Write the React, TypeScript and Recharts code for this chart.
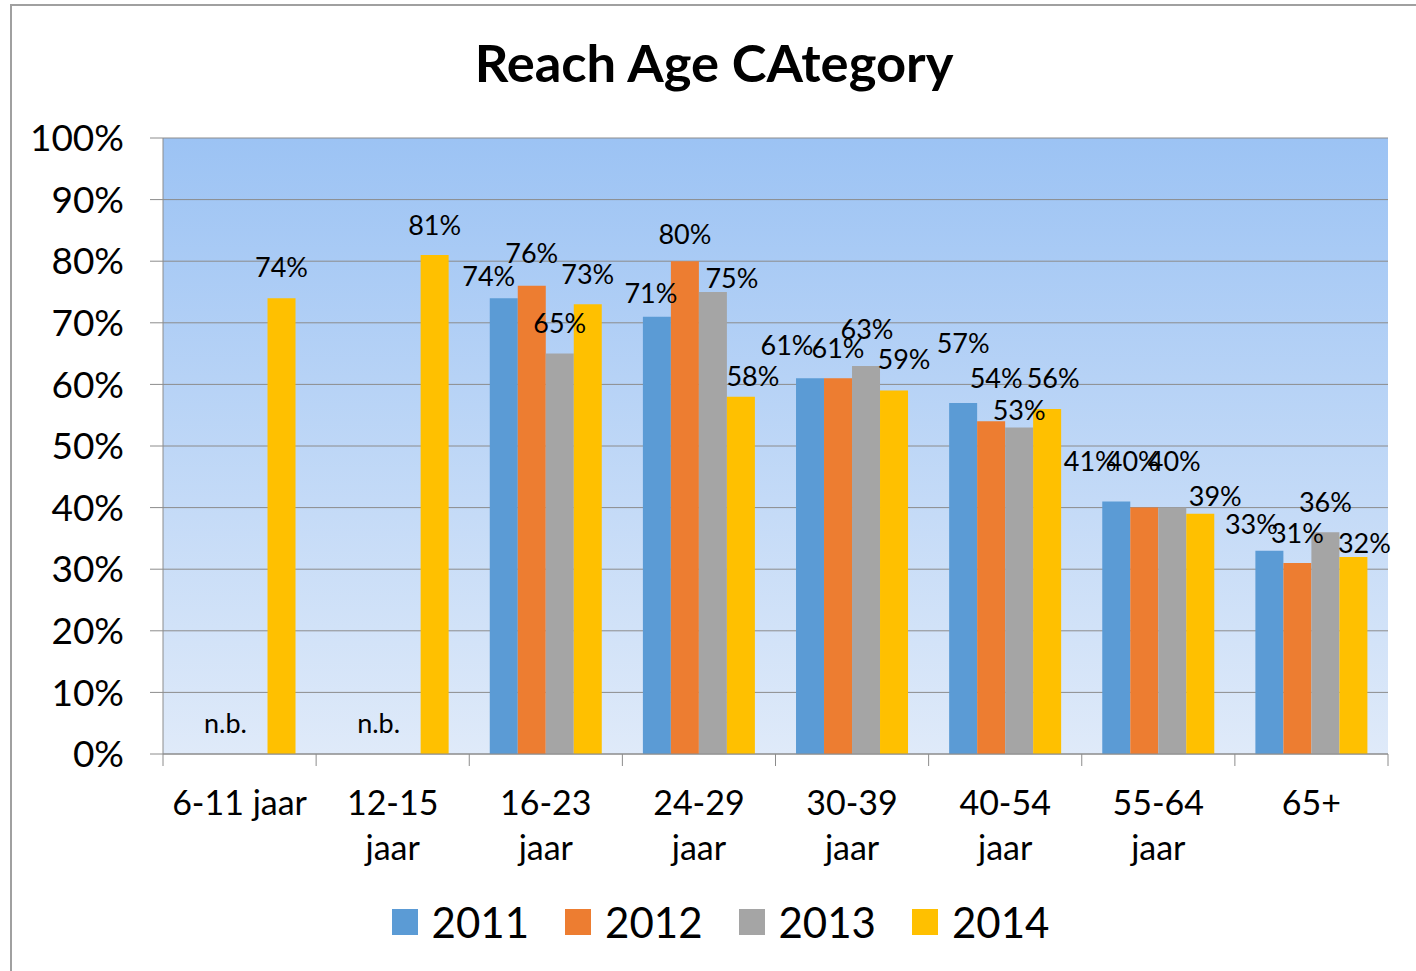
import React from 'react';
import { BarChart, Bar, XAxis, YAxis, CartesianGrid, LabelList, Legend } from 'recharts';

const categories = ['6-11 jaar', '12-15 jaar', '16-23 jaar', '24-29 jaar', '30-39 jaar', '40-54 jaar', '55-64 jaar', '65+'];
const xTickLines = [['6-11 jaar'], ['12-15', 'jaar'], ['16-23', 'jaar'], ['24-29', 'jaar'], ['30-39', 'jaar'], ['40-54', 'jaar'], ['55-64', 'jaar'], ['65+']];
const v2011: (number | null)[] = [null, null, 74, 71, 61, 57, 41, 33];
const v2012: (number | null)[] = [null, null, 76, 80, 61, 54, 40, 31];
const v2013: (number | null)[] = [null, null, 65, 75, 63, 53, 40, 36];
const v2014: (number | null)[] = [74, 81, 73, 58, 59, 56, 39, 32];
const seriesNames = ['2011', '2012', '2013', '2014'];
const seriesColors = ['#5B9BD5', '#ED7D31', '#A5A5A5', '#FFC000'];
const yTicks = [0, 10, 20, 30, 40, 50, 60, 70, 80, 90, 100];
const missingLabel = 'n.b.';
const title = 'Reach Age CAtegory';

// label nudges [dx, dy] per series per category (style only, imitating the original's label placement)
const nudge2011 = [[0, 0], [0, 0], [-15, 9], [-6, 7], [-23, -2], [0, -29], [-26, -9], [-18, 4]];
const nudge2012 = [[0, 0], [0, 0], [0, -2], [0, 4], [0, 1], [5, -12], [-11, -16], [0, 1]];
const nudge2013 = [[0, 0], [0, 0], [0, 0], [19, 17], [1, -6], [0, 13], [2, -16], [0, 1]];
const nudge2014 = [[0, 0], [0, 1], [0, 1], [12, 10], [10, -1], [6, 0], [15, 13], [11, 17]];
const nudges = [nudge2011, nudge2012, nudge2013, nudge2014];

const FONT = 'Lato, "Open Sans", sans-serif';
const W = 1416;
const H = 971;
const PLOT_LEFT = 163;
const PLOT_RIGHT = 1388;
const BAND = (PLOT_RIGHT - PLOT_LEFT) / categories.length;
const LABEL_GAP = 21;

const fmt = (v: number | null) => (v == null ? '' : `${v}%`);

const data = categories.map((cat, i) => ({
  cat,
  s2011: v2011[i],
  s2012: v2012[i],
  s2013: v2013[i],
  s2014: v2014[i],
  l2011: fmt(v2011[i]),
  l2012: fmt(v2012[i]),
  l2013: fmt(v2013[i]),
  l2014: fmt(v2014[i]),
  note: v2012[i] == null ? missingLabel : '',
}));

const XTick = (props: any) => {
  const { x, y, index } = props;
  const left = x - BAND / 2;
  const right = x + BAND / 2;
  const lines = xTickLines[index] || [String(props.payload.value)];
  return (
    <g>
      <line x1={left} y1={y} x2={left} y2={y + 12} stroke="#8c8c8c" strokeWidth={1} />
      {index === categories.length - 1 && (
        <line x1={right} y1={y} x2={right} y2={y + 12} stroke="#8c8c8c" strokeWidth={1} />
      )}
      <text x={x} y={y + 61} textAnchor="middle" fill="#000" style={{ fontFamily: FONT, fontSize: 34 }}>
        {lines.map((ln, k) => (
          <tspan key={k} x={x} dy={k === 0 ? 0 : 45}>
            {ln}
          </tspan>
        ))}
      </text>
    </g>
  );
};

const geom = (props: any) => {
  const vb = props.viewBox || {};
  const x = vb.x ?? props.x;
  const y = vb.y ?? props.y;
  const width = vb.width ?? props.width;
  const height = vb.height ?? props.height;
  return { x: Number(x), y: Number(y), width: Number(width), height: Number(height) };
};

const makeLabel = (s: number) => (props: any) => {
  const { value } = props;
  if (value == null || value === '') return null;
  const { x, y, width } = geom(props);
  const cat = Math.max(0, Math.min(categories.length - 1, Math.floor((x + width / 2 - PLOT_LEFT) / BAND)));
  const [dx, dy] = nudges[s][cat] || [0, 0];
  return (
    <text
      x={x + width / 2 + dx}
      y={y - LABEL_GAP + dy}
      textAnchor="middle"
      fill="#000"
      style={{ fontFamily: FONT, fontSize: 27 }}
    >
      {value}
    </text>
  );
};

// "n.b." note drawn in the (empty) 2012 slot, using the 2014 bar's geometry of the same category
const noteLabel = (props: any) => {
  const { value } = props;
  if (!value) return null;
  const { x, y, width, height } = geom(props);
  return (
    <text
      x={x + width / 2 - 2 * width}
      y={y + height - LABEL_GAP}
      textAnchor="middle"
      fill="#000"
      style={{ fontFamily: FONT, fontSize: 27 }}
    >
      {value}
    </text>
  );
};

const renderLegend = () => (
  <div
    style={{
      display: 'flex',
      justifyContent: 'center',
      alignItems: 'center',
      height: 50,
      paddingLeft: 25,
      fontFamily: FONT,
    }}
  >
    {seriesNames.map((n, i) => (
      <div key={n} style={{ display: 'flex', alignItems: 'center', marginLeft: i === 0 ? 0 : 36 }}>
        <span style={{ display: 'inline-block', width: 26, height: 26, background: seriesColors[i], marginRight: 14 }} />
        <span style={{ fontSize: 42, color: '#000', lineHeight: '50px' }}>{n}</span>
      </div>
    ))}
  </div>
);

export default function App() {
  const keys = ['s2011', 's2012', 's2013', 's2014'];
  const lkeys = ['l2011', 'l2012', 'l2013', 'l2014'];
  return (
    <div style={{ position: 'absolute', left: 0, top: 0, width: W, height: H, overflow: 'hidden', background: '#fff' }}>
      <div
        style={{
          position: 'absolute',
          left: 10,
          top: 4,
          width: W,
          height: H,
          borderLeft: '2px solid #a0a0a0',
          borderTop: '2px solid #a0a0a0',
        }}
      />
      <div
        style={{
          position: 'absolute',
          left: 0,
          top: 28,
          width: 1428,
          textAlign: 'center',
          fontFamily: FONT,
          fontWeight: 700,
          fontSize: 52.5,
          lineHeight: '68px',
          color: '#000',
        }}
      >
        {title}
      </div>
      <div style={{ position: 'absolute', left: 0, top: 0 }}>
        <BarChart
          width={W}
          height={H}
          data={data}
          margin={{ top: 138, right: W - PLOT_RIGHT, left: 0, bottom: 57 }}
          barCategoryGap="13.4%"
          barGap={0}
        >
          <defs>
            <linearGradient id="plotBg" x1="0" y1="0" x2="0" y2="1">
              <stop offset="0%" stopColor="#9CC3F4" />
              <stop offset="100%" stopColor="#DFEAF9" />
            </linearGradient>
          </defs>
          <CartesianGrid vertical={false} stroke="#8c8c8c" fill="url(#plotBg)" fillOpacity={1} />
          <XAxis
            dataKey="cat"
            type="category"
            height={110}
            axisLine={{ stroke: '#8c8c8c' }}
            tickLine={false}
            tickSize={0}
            tickMargin={0}
            interval={0}
            tick={<XTick />}
          />
          <YAxis
            type="number"
            domain={[0, 100]}
            ticks={yTicks}
            width={PLOT_LEFT}
            axisLine={{ stroke: '#8c8c8c' }}
            tickLine={{ stroke: '#8c8c8c' }}
            tickSize={13}
            tickMargin={26}
            tickFormatter={(v: number) => `${v}%`}
            tick={{ fill: '#000', fontSize: 37, fontFamily: FONT }}
          />
          <Legend
            verticalAlign="bottom"
            content={renderLegend}
            wrapperStyle={{ top: 897, left: 0, bottom: 'auto', width: 1416 }}
          />
          {keys.map((k, i) => (
            <Bar key={k} dataKey={k} name={seriesNames[i]} fill={seriesColors[i]} isAnimationActive={false}>
              <LabelList dataKey={lkeys[i]} content={makeLabel(i)} />
              {i === 3 && <LabelList dataKey="note" content={noteLabel} />}
            </Bar>
          ))}
        </BarChart>
      </div>
    </div>
  );
}
